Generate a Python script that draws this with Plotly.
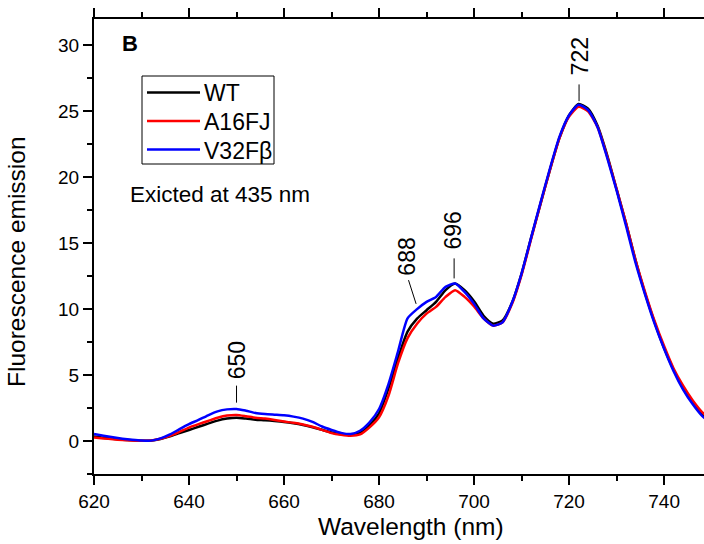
import plotly.graph_objects as go

wavelength = list(range(620, 752, 2))

wt = [0.35, 0.25, 0.17, 0.10, 0.05, 0.02, 0.03, 0.15, 0.35, 0.60,
      0.84, 1.08, 1.32, 1.55, 1.70, 1.76, 1.70, 1.62, 1.58, 1.52,
      1.45, 1.35, 1.22, 1.05, 0.85, 0.65, 0.52, 0.48, 0.62, 1.20,
      2.10, 4.00, 6.30, 8.30, 9.28, 9.92, 10.55, 11.44, 11.95, 11.44,
      10.60, 9.50, 8.90, 9.15, 10.50, 12.70, 15.40, 18.00, 20.60, 23.00,
      24.70, 25.55, 25.20, 23.90, 21.70, 19.10, 16.50, 13.70, 11.20, 9.00,
      7.05, 5.40, 4.00, 2.90, 2.00, 1.40]

a16fj = [0.27, 0.20, 0.13, 0.08, 0.04, 0.02, 0.04, 0.17, 0.40, 0.70,
         1.02, 1.28, 1.52, 1.76, 1.93, 1.98, 1.88, 1.76, 1.70, 1.60,
         1.48, 1.38, 1.25, 1.08, 0.85, 0.60, 0.47, 0.40, 0.50, 1.04,
         1.80, 3.45, 5.90, 7.80, 8.90, 9.66, 10.17, 10.93, 11.44, 10.93,
         10.20, 9.30, 8.75, 9.00, 10.40, 12.60, 15.30, 18.00, 20.60, 23.00,
         24.60, 25.35, 25.00, 23.80, 21.60, 19.10, 16.50, 13.70, 11.30, 9.10,
         7.20, 5.50, 4.20, 3.10, 2.20, 1.60]

v32fb = [0.53, 0.40, 0.28, 0.18, 0.10, 0.04, 0.03, 0.20, 0.50, 0.90,
         1.28, 1.60, 1.95, 2.25, 2.40, 2.43, 2.30, 2.13, 2.05, 2.00,
         1.95, 1.85, 1.70, 1.45, 1.10, 0.84, 0.62, 0.53, 0.78, 1.42,
         2.43, 4.34, 6.80, 9.30, 10.00, 10.55, 10.93, 11.69, 11.95, 11.31,
         10.40, 9.30, 8.75, 9.00, 10.50, 12.70, 15.40, 18.10, 20.70, 23.10,
         24.70, 25.50, 25.10, 23.80, 21.50, 19.00, 16.30, 13.50, 11.10, 8.90,
         7.00, 5.30, 3.90, 2.80, 1.90, 1.30]

series_names = ["WT", "A16FJ", "V32F\u03b2"]
series_values = [wt, a16fj, v32fb]
series_colors = ["#000000", "#ff0000", "#0000ff"]

peak_labels = ["650", "688", "696", "722"]
# label placement (data coords): text centre and leader line
label_text_x = [650.0, 685.7, 695.5, 722.2]
label_text_y = [6.09, 13.99, 15.93, 29.13]
leader_x0 = [650.0, 686.2, 695.8, 722.1]
leader_x1 = [650.0, 687.8, 695.8, 722.1]
leader_y0 = [4.20, 12.20, 13.85, 27.04]
leader_y1 = [2.91, 10.40, 12.33, 25.77]

FONT = "Liberation Sans, Arial, sans-serif"

L, R, T, B = 94, 0, 19, 70
W, H = 704, 544
pw, ph = W - L - R, H - T - B


def px(xp):
    return (xp - L) / pw


def py(yp):
    return (H - B - yp) / ph


fig = go.Figure()
for name, vals, col in zip(series_names, series_values, series_colors):
    fig.add_trace(go.Scatter(x=wavelength, y=vals, mode="lines", name=name,
                             line=dict(color=col, width=2.5, shape="spline", smoothing=0.6),
                             showlegend=False))

annotations = []
shapes = []
for t, tx, ty, x0, x1, y0, y1 in zip(peak_labels, label_text_x, label_text_y,
                                      leader_x0, leader_x1, leader_y0, leader_y1):
    annotations.append(dict(x=tx, y=ty, xref="x", yref="y", text=t, textangle=-90,
                            showarrow=False, font=dict(family=FONT, size=23, color="black"),
                            xanchor="center", yanchor="middle"))
    shapes.append(dict(type="line", xref="x", yref="y", x0=x0, x1=x1, y0=y0, y1=y1,
                       line=dict(color="black", width=1)))

annotations += [
    dict(x=px(120), y=py(43), xref="paper", yref="paper", text="<b>B</b>", showarrow=False,
         font=dict(family=FONT, size=22, color="black"), xanchor="left", yanchor="middle"),
    dict(x=px(128), y=py(195), xref="paper", yref="paper", text="Exicted at 435 nm",
         showarrow=False, font=dict(family=FONT, size=22.5, color="black"),
         xanchor="left", yanchor="middle"),
    dict(x=px(411), y=py(526), xref="paper", yref="paper", text="Wavelength (nm)",
         showarrow=False, font=dict(family=FONT, size=24.5, color="black"),
         xanchor="center", yanchor="middle"),
    dict(x=px(16), y=py(262), xref="paper", yref="paper", text="Fluorescence emission",
         showarrow=False, textangle=-90, font=dict(family=FONT, size=24.5, color="black"),
         xanchor="center", yanchor="middle"),
]

# legend box drawn by hand to match the sample line length
leg_x0, leg_x1, leg_y0, leg_y1 = 142, 274, 76, 164
leg_rows = [92.5, 121, 149.5]
shapes.append(dict(type="rect", xref="paper", yref="paper",
                   x0=px(leg_x0), x1=px(leg_x1), y0=py(leg_y1), y1=py(leg_y0),
                   line=dict(color="black", width=1), fillcolor="white", layer="above"))
for name, col, ry in zip(series_names, series_colors, leg_rows):
    shapes.append(dict(type="line", xref="paper", yref="paper",
                       x0=px(147), x1=px(200), y0=py(ry), y1=py(ry),
                       line=dict(color=col, width=2.5), layer="above"))
    annotations.append(dict(x=px(202), y=py(ry + 1), xref="paper", yref="paper", text=name,
                            showarrow=False, font=dict(family=FONT, size=23, color="black"),
                            xanchor="left", yanchor="middle"))

fig.update_layout(
    width=W, height=H,
    margin=dict(l=L, r=R, t=T, b=B, pad=0),
    paper_bgcolor="white", plot_bgcolor="white",
    font=dict(family=FONT, size=19, color="black"),
    showlegend=False,
    annotations=annotations,
    shapes=shapes,
    xaxis=dict(range=[620, 748.4], tickmode="linear", tick0=620, dtick=20,
               ticks="outside", ticklen=9, tickwidth=2, tickcolor="black",
               showline=True, linewidth=2, linecolor="black", mirror="ticks",
               showgrid=False, zeroline=False,
               minor=dict(dtick=10, tick0=620, ticks="outside", ticklen=5, tickwidth=2,
                          tickcolor="black", showgrid=False),
               tickfont=dict(family=FONT, size=19, color="black")),
    yaxis=dict(range=[-2.5, 32], tickmode="linear", tick0=0, dtick=5,
               ticks="outside", ticklen=9, tickwidth=2, tickcolor="black",
               showline=True, linewidth=2, linecolor="black", mirror=False,
               showgrid=False, zeroline=False,
               minor=dict(dtick=2.5, tick0=0, ticks="outside", ticklen=5, tickwidth=2,
                          tickcolor="black", showgrid=False),
               tickfont=dict(family=FONT, size=19, color="black")),
)

fig.write_html("out.html")
